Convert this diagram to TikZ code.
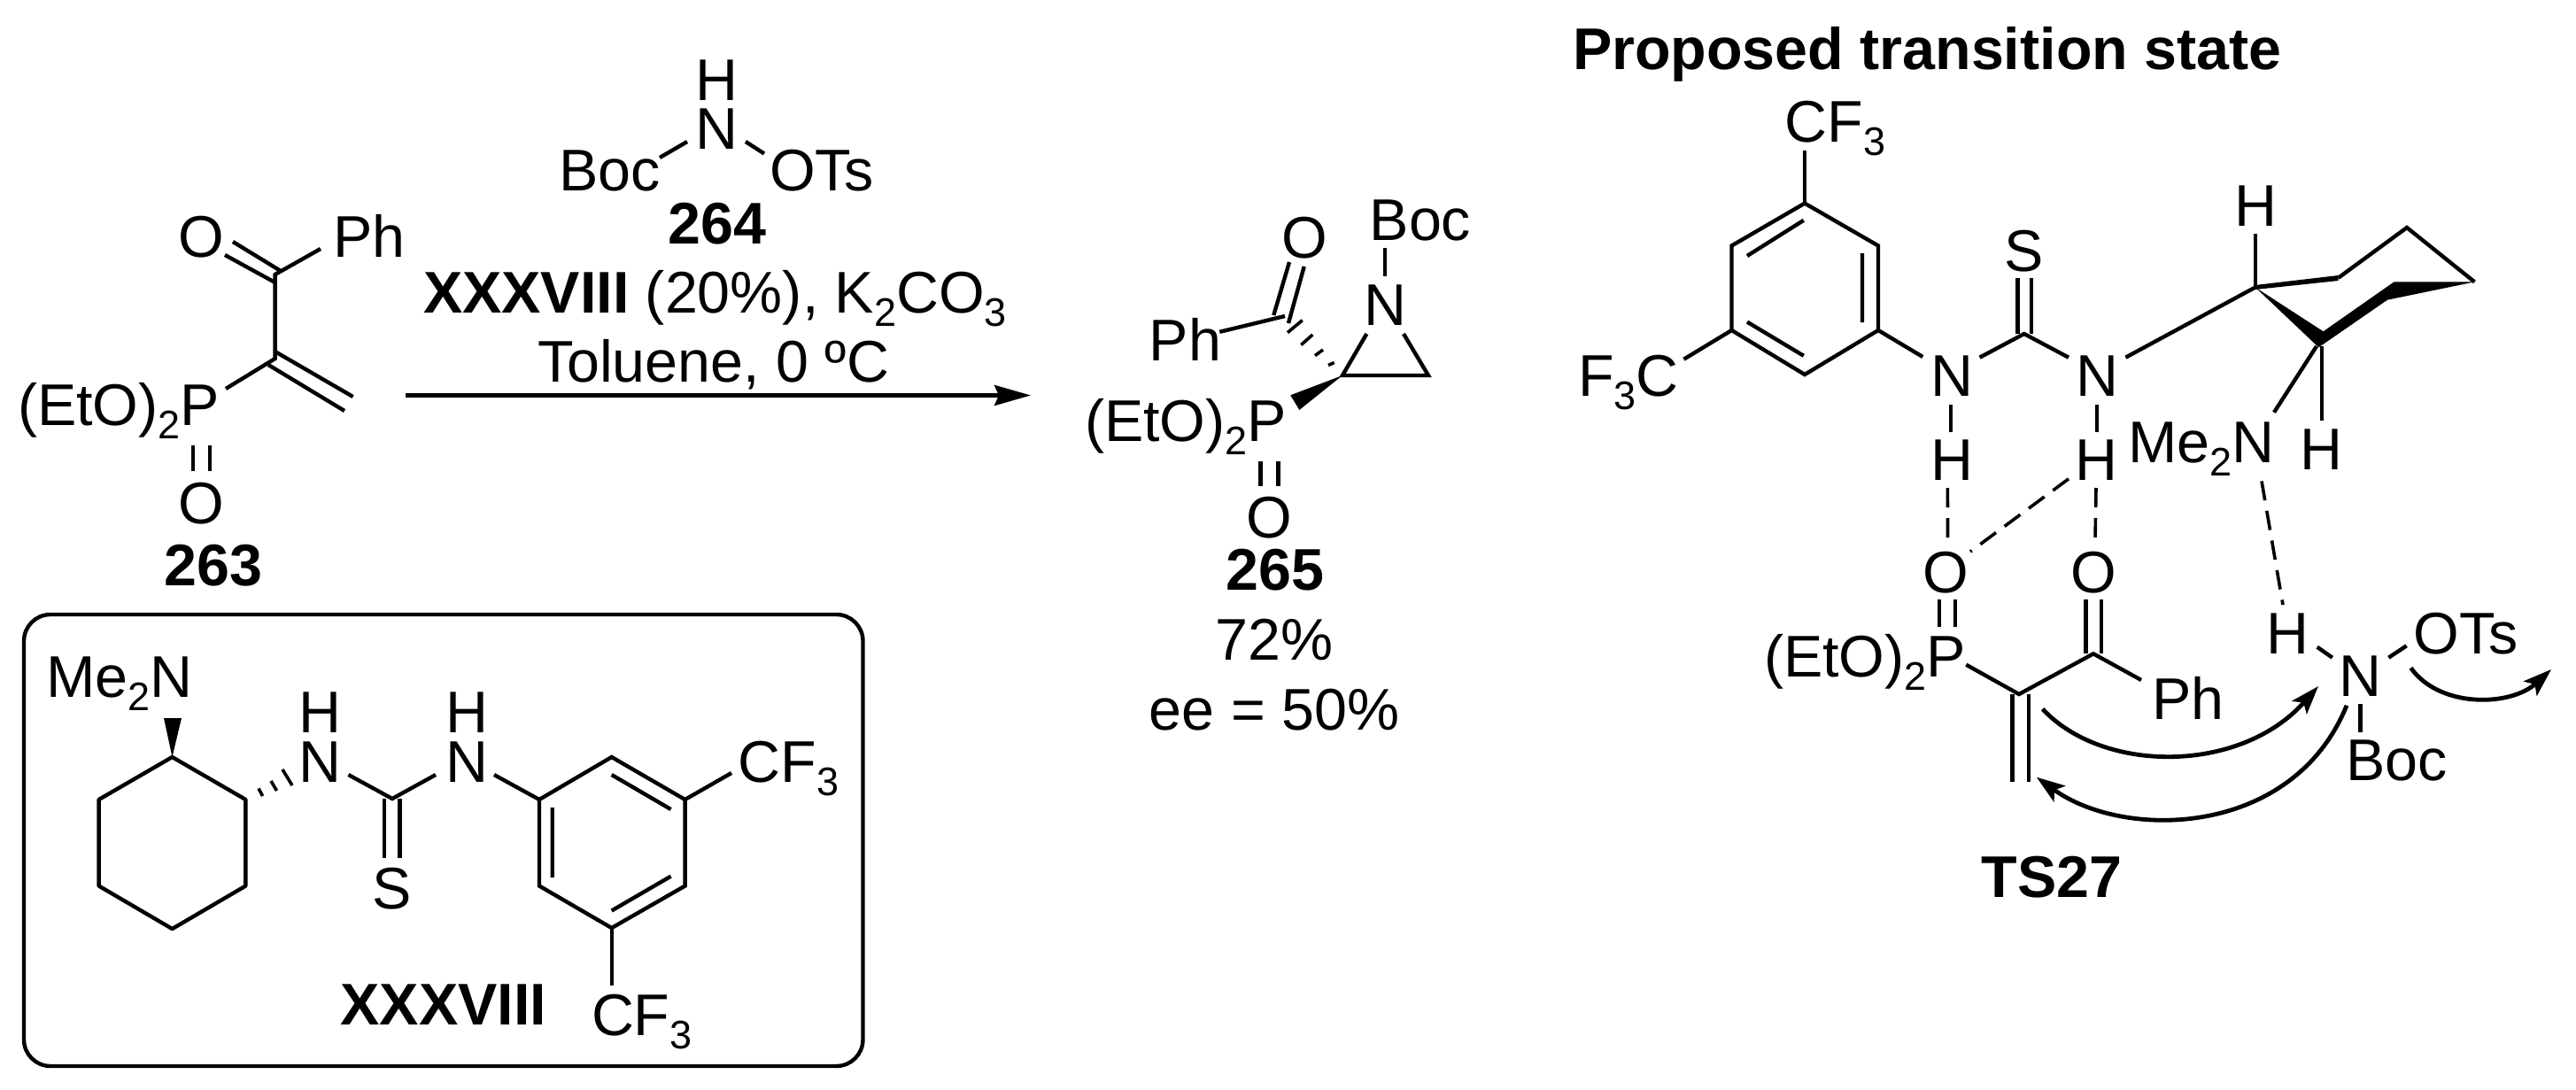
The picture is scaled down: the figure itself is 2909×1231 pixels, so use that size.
\documentclass[tikz,border=0pt]{standalone}
\usepackage{fontspec}
\setmainfont{Liberation Sans}
\usetikzlibrary{arrows.meta}
\newcommand{\chsb}[1]{\raisebox{-7.5pt}{\fontsize{22.5}{24}\selectfont #1}}
\tikzset{
  bond/.style={line width=2.2pt,line cap=butt,line join=miter},
  hbond/.style={line width=1.8pt,dash pattern=on 11pt off 6pt},
  lbl/.style={inner sep=0pt,outer sep=0pt,anchor=base west,font=\fontsize{33.2}{36}\selectfont},
  ctr/.style={lbl,anchor=base},
  blbl/.style={lbl,font=\fontsize{33.2}{36}\selectfont\bfseries},
  bctr/.style={blbl,anchor=base},
  reaction/.style={line width=2.2pt,-{Stealth[length=20.5pt,width=11.5pt,inset=2.5pt]}},
  pusher/.style={line width=2.4pt,-{Stealth[length=16pt,width=11pt,inset=3.5pt]}},
  wedge/.style={fill=black,draw=none},
  panel/.style={line width=2.2pt,rounded corners=15pt}
}
\begin{document}
\begin{tikzpicture}[x=0.5pt,y=-0.5pt]
\useasboundingbox (0,0) rectangle (2909,1231);
% ---------- 263
\node[ctr] (a263O) at (227,290) {O};
\node[lbl] (a263Ph) at (376,290) {Ph};
\node[lbl] (a263P) at (20,480) {(EtO)\chsb{2}P};
\node[ctr] (a263Ob) at (227,591) {O};
\node[bctr] (n263) at (241,661) {263};
\draw[bond] (254,288)--(310.6,319) (263,273)--(317,306);
\draw[bond] (362,281)--(310.6,310)--(310.6,405)--(255,439);
\draw[bond] (310.6,397)--(398.6,448) (303,412)--(389,464);
\draw[bond] (218,503)--(218,532) (237,503)--(237,532);
% ---------- 264
\node[ctr] (b264H) at (809,113) {H};
\node[ctr] (b264N) at (809,168) {N};
\node[lbl] (b264Boc) at (631,215.5) {Boc};
\node[lbl] (b264OTs) at (869,215.5) {OTs};
\node[bctr] (n264) at (809.7,275) {264};
\draw[bond] (745,178)--(776,160) (842,160)--(863,173.5);
% ---------- conditions and arrow
\node[lbl] (cond1) at (478,353.5) {\textbf{XXXVIII} (20\%), K\chsb{2}CO\chsb{3}};
\node[lbl] (cond2) at (607,431.5) {Toluene, 0 ºC};
\coordinate (rstart) at (458,446.5);
\coordinate (rend) at (1164,446.5);
\draw[reaction] (rstart)--(rend);
% ---------- catalyst panel
\draw[panel] (27,694) rectangle (974.5,1204);
\node[lbl] (cMe) at (52,787.5) {Me\chsb{2}N};
\fill[wedge] (194.5,855)--(185,811)--(205,811)--cycle;
\draw[bond,line join=bevel] (194.5,855)--(277.4,903)--(277.4,1000.5)--(194.5,1049)--(111.6,1000.5)--(111.6,903)--cycle;
\draw[line width=1.8pt] (292,890.5)--(296.6,899) (306,882)--(312.5,893) (319,869)--(330,887);
\node[ctr] (cH1) at (361,827.5) {H};
\node[ctr] (cN1) at (361,883) {N};
\node[ctr] (cH2) at (527,827.5) {H};
\node[ctr] (cN2) at (527,883) {N};
\draw[bond] (393.5,875)--(443,902)--(492,875);
\draw[bond] (433.7,902)--(433.7,968.5) (451.5,902)--(451.5,968.5);
\node[ctr] (cS) at (443,1026) {S};
\draw[bond] (558,875)--(609,903);
\draw[bond] (609,903)--(690.7,855)--(773.6,903)--(773.6,1000.5)--(690.7,1048)--(609,1000.5)--cycle;
\draw[bond] (690.7,875)--(757.6,914) (623.7,912)--(623.7,991) (690.7,1028.5)--(757.6,989.6);
\node[lbl] (cCF3a) at (833.5,883) {CF\chsb{3}};
\draw[bond] (773.6,903)--(826,873);
\node[lbl] (cCF3b) at (668,1169) {CF\chsb{3}};
\draw[bond] (690.7,1048)--(690.7,1112.7);
\node[blbl] (nXXXVIII) at (384.6,1157) {XXXVIII};
% ---------- 265
\node[lbl] (dBoc) at (1546.7,271.5) {Boc};
\draw[bond] (1564,280)--(1564,312);
\node[ctr] (dN) at (1564,367) {N};
\draw[bond] (1543.3,377)--(1516,424)--(1613,424)--(1585,377);
\fill[wedge] (1516,424)--(1457.3,446.3)--(1467.3,463)--cycle;
\draw[line width=1.8pt] (1500,412.5)--(1506.7,409.5) (1485,401.6)--(1494,395) (1469.3,389.5)--(1482.3,378) (1454,375.6)--(1470.7,361.7);
\draw[bond] (1377.3,374.8)--(1451,357);
\draw[bond] (1438.3,356)--(1456,296) (1455,365)--(1472.7,301);
\node[ctr] (dO) at (1473.3,291) {O};
\node[lbl] (dPh) at (1297.7,407) {Ph};
\node[lbl] (dP) at (1225,498) {(EtO)\chsb{2}P};
\draw[bond] (1423.3,521)--(1423.3,549) (1443.3,521)--(1443.3,549);
\node[ctr] (dOb) at (1433,607.6) {O};
\node[bctr] (n265) at (1440,666) {265};
\node[ctr] (dY) at (1439,745.5) {72\%};
\node[ctr] (dEe) at (1439,824.5) {ee = 50\%};
% ---------- TS27
\node[blbl] (tTitle) at (1776,78.5) {Proposed transition state};
\node[lbl] (tCF3a) at (2015.5,160) {CF\chsb{3}};
\draw[bond] (2038,170)--(2038,229.6);
\draw[bond] (2038,229.6)--(2121,277.5)--(2121,373)--(2038,423)--(1955.5,373)--(1955.5,277.5)--cycle;
\draw[bond] (2036.8,248.8)--(1973,289) (2103,286)--(2103,364) (1973,363.6)--(2036.8,401.8);
\node[lbl] (tF3C) at (1782,447.8) {F\chsb{3}C};
\draw[bond] (1955.5,373)--(1901.5,405.7);
\draw[bond] (2121,373)--(2171.3,403);
\node[ctr] (tN1) at (2204.6,447.8) {N};
\draw[bond] (2235.6,403.7)--(2285.8,377)--(2336,403.7);
\draw[bond] (2278.5,313.8)--(2278.5,377) (2294,313.8)--(2294,377);
\node[ctr] (tS) at (2285.8,306) {S};
\node[ctr] (tN2) at (2368.6,447.8) {N};
\draw[bond] (2400.4,403.7)--(2546.8,324.5);
\node[ctr] (tHa) at (2547,255.6) {H};
\draw[bond] (2546.8,264)--(2546.8,324.5);
\fill[wedge] (2546.8,322)--(2640.6,311)--(2640.6,317)--(2546.8,327)--cycle;
\draw[bond,line join=miter] (2640.6,313.8)--(2718,257)--(2794.4,318.4);
\fill[wedge] (2546.8,324.5)--(2623.6,374.3)--(2703.4,318.4)--(2794.4,318.4)--(2696,338.7)--(2618.4,392.3)--cycle;
\draw[bond] (2616,391)--(2568,465.7);
\draw[bond] (2622,391)--(2622,474.5);
\node[ctr] (tHb) at (2621,530) {H};
\node[lbl] (tMe) at (2403,522.4) {Me\chsb{2}N};
\draw[bond] (2203,457)--(2203,488) (2368,457)--(2368,488);
\node[ctr] (tH1) at (2204.6,542.7) {H};
\node[ctr] (tH2) at (2367,542.7) {H};
\node[ctr] (tO1) at (2197.7,669) {O};
\node[ctr] (tO2) at (2364,669) {O};
\draw[hbond] (2199.4,551)--(2199.5,611.7);
\draw[hbond] (2367,551)--(2366,611.7);
\draw[hbond] (2336,540.8)--(2225,623);
\draw[hbond] (2554,543.4)--(2578,683);
\draw[bond] (2189.8,677)--(2189.8,708) (2208,677)--(2208,708);
\draw[bond] (2355.5,677)--(2355.5,738) (2373,677)--(2373,738);
\node[lbl] (tP) at (1992,764) {(EtO)\chsb{2}P};
\draw[bond] (2220.3,750.7)--(2280,784)--(2364,738.3)--(2418,768);
\node[lbl] (tPh) at (2430,812) {Ph};
\draw[bond] (2272.3,784)--(2272.3,883) (2290.7,784)--(2290.7,883);
\node[ctr] (tH3) at (2583,738.3) {H};
\draw[bond] (2616.7,730.7)--(2633.8,742.7);
\node[ctr] (tN3) at (2665.6,786.7) {N};
\draw[bond] (2697.4,742.7)--(2717.6,729.3);
\node[lbl] (tOTs) at (2725.5,738.3) {OTs};
\draw[bond] (2665.6,795)--(2665.6,826.7);
\node[lbl] (tBoc) at (2649,881.7) {Boc};
\coordinate (p1s) at (2306.6,800.7);
\coordinate (p1e) at (2618,775);
\coordinate (p2s) at (2650,796.7);
\coordinate (p2e) at (2299.8,877.7);
\coordinate (p3s) at (2722.5,754.3);
\coordinate (p3e) at (2881,756);
\draw[pusher] (p1s) .. controls (2375,874) and (2530,874) .. (p1e);
\draw[pusher] (p2s) .. controls (2590,945) and (2400,950) .. (p2e);
\draw[pusher] (p3s) .. controls (2755,800) and (2835,798) .. (p3e);
\node[bctr] (nTS) at (2317,1013) {TS27};
\end{tikzpicture}
\end{document}
